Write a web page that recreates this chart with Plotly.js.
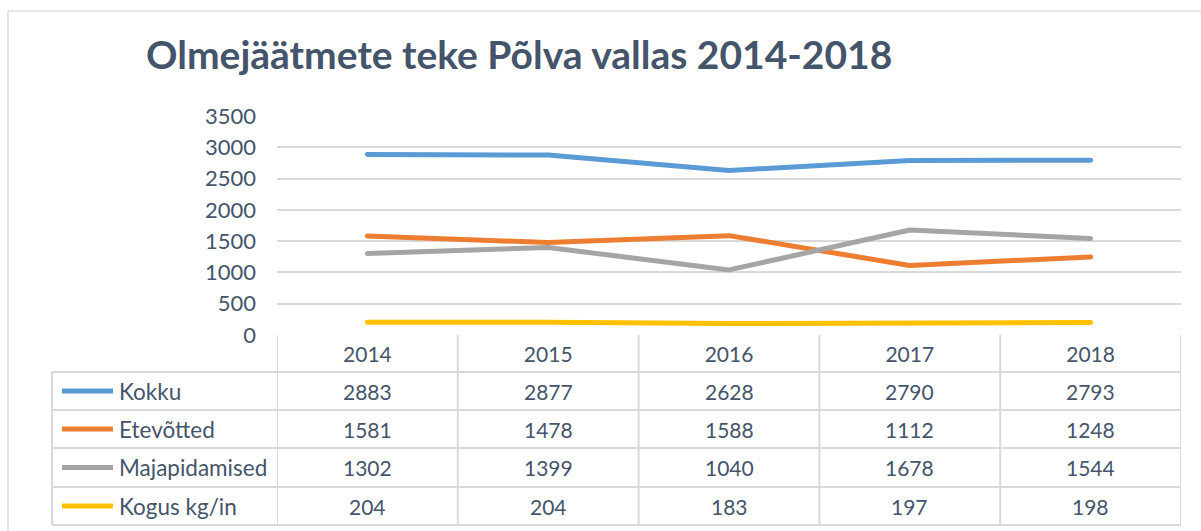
<!DOCTYPE html>
<html>
<head>
<meta charset="utf-8">
<script src="https://cdn.plot.ly/plotly-3.0.1.min.js"></script>
<style>
html,body{margin:0;padding:0;background:#fff;}
#chart{width:1201px;height:531px;}
.js-line{stroke-linecap:round;stroke-linejoin:round;}
</style>
</head>
<body>
<div id="chart"></div>
<script>
const titleText = "Olmejäätmete teke Põlva vallas 2014-2018";
const years = ["2014", "2015", "2016", "2017", "2018"];
const seriesNames = ["Kokku", "Etevõtted", "Majapidamised", "Kogus kg/in"];
const kokku = [2883, 2877, 2628, 2790, 2793];
const etevotted = [1581, 1478, 1588, 1112, 1248];
const majapidamised = [1302, 1399, 1040, 1678, 1544];
const kogus = [204, 204, 183, 197, 198];
const yTicks = [0, 500, 1000, 1500, 2000, 2500, 3000, 3500];

const seriesValues = [kokku, etevotted, majapidamised, kogus];
const colors = ["#5B9BD5", "#ED7D31", "#A5A5A5", "#FFC000"];
const textColor = "#44546A";
const borderColor = "#D9D9D9";
const FONT = "Lato, 'Open Sans', sans-serif";

// layout geometry (pixels)
const W = 1201, H = 531;
const L = 277, R = 1181, T = 116, B = 335;
const pw = R - L, ph = B - T;
const px = x => (x - L) / pw;
const py = y => (B - y) / ph;

const rowLines = [372, 410, 448, 487, 525];
const rowCenters = [391, 429, 467.5, 506];
const tableLeft = 52;

const traces = seriesNames.map((name, i) => ({
  type: "scatter", mode: "lines", name: name,
  x: years, y: seriesValues[i],
  line: {color: colors[i], width: 5},
  hoverinfo: "skip"
}));

const shapes = [];
const annotations = [];

// outer chart frame
shapes.push({type: "line", xref: "paper", yref: "paper", x0: px(8), x1: px(W), y0: py(11), y1: py(11), line: {color: "#DADDE2", width: 1.5}});
shapes.push({type: "line", xref: "paper", yref: "paper", x0: px(8), x1: px(8), y0: py(11), y1: py(H), line: {color: "#DADDE2", width: 1.5}});

// horizontal table lines
rowLines.forEach(y => {
  shapes.push({type: "line", xref: "paper", yref: "paper", x0: px(tableLeft), x1: px(R), y0: py(y), y1: py(y), line: {color: borderColor, width: 2}});
});
// vertical table lines (category borders)
for (let k = 0; k <= years.length; k++) {
  shapes.push({type: "line", xref: "x", yref: "paper", x0: k - 0.5, x1: k - 0.5, y0: py(B), y1: py(rowLines[rowLines.length - 1]), line: {color: borderColor, width: 2}});
}
// left border of legend column
shapes.push({type: "line", xref: "paper", yref: "paper", x0: px(tableLeft), x1: px(tableLeft), y0: py(rowLines[0]), y1: py(rowLines[rowLines.length - 1]), line: {color: borderColor, width: 2}});

// legend keys + names + values
seriesNames.forEach((name, i) => {
  const yc = py(rowCenters[i]);
  shapes.push({type: "line", xref: "paper", yref: "paper", x0: px(62), x1: px(113), y0: yc, y1: yc, line: {color: colors[i], width: 5}});
  annotations.push({xref: "paper", yref: "paper", x: px(117), y: yc, text: name, showarrow: false, xanchor: "left", yanchor: "middle", font: {family: FONT, size: 22.5, color: textColor}});
  seriesValues[i].forEach((v, j) => {
    annotations.push({xref: "x", yref: "paper", x: j, y: yc, text: String(v), showarrow: false, xanchor: "center", yanchor: "middle", font: {family: FONT, size: 21, color: textColor}});
  });
});

const layout = {
  width: W, height: H,
  margin: {l: L, r: W - R, t: T, b: H - B, pad: 0},
  paper_bgcolor: "#fff", plot_bgcolor: "#fff",
  showlegend: false,
  title: {text: "<b>" + titleText + "</b>", x: 146 / W, xref: "container", xanchor: "left", y: 1 - 55 / H, yref: "container", yanchor: "middle",
          font: {family: FONT, size: 39, color: textColor}},
  xaxis: {type: "category", range: [-0.5, years.length - 0.5], showgrid: false, zeroline: false, showline: false,
          ticks: "", tickfont: {family: FONT, size: 21, color: textColor}, ticklabelstandoff: 5, fixedrange: true},
  yaxis: {range: [0, 3500], tickvals: yTicks, ticktext: yTicks.map(String), showgrid: true, gridcolor: borderColor, gridwidth: 2,
          zeroline: false, showline: false, ticks: "", tickfont: {family: FONT, size: 22, color: textColor}, ticklabelstandoff: 20, fixedrange: true},
  shapes: shapes,
  annotations: annotations
};

Plotly.newPlot("chart", traces, layout, {displayModeBar: false, staticPlot: true});
</script>
</body>
</html>
